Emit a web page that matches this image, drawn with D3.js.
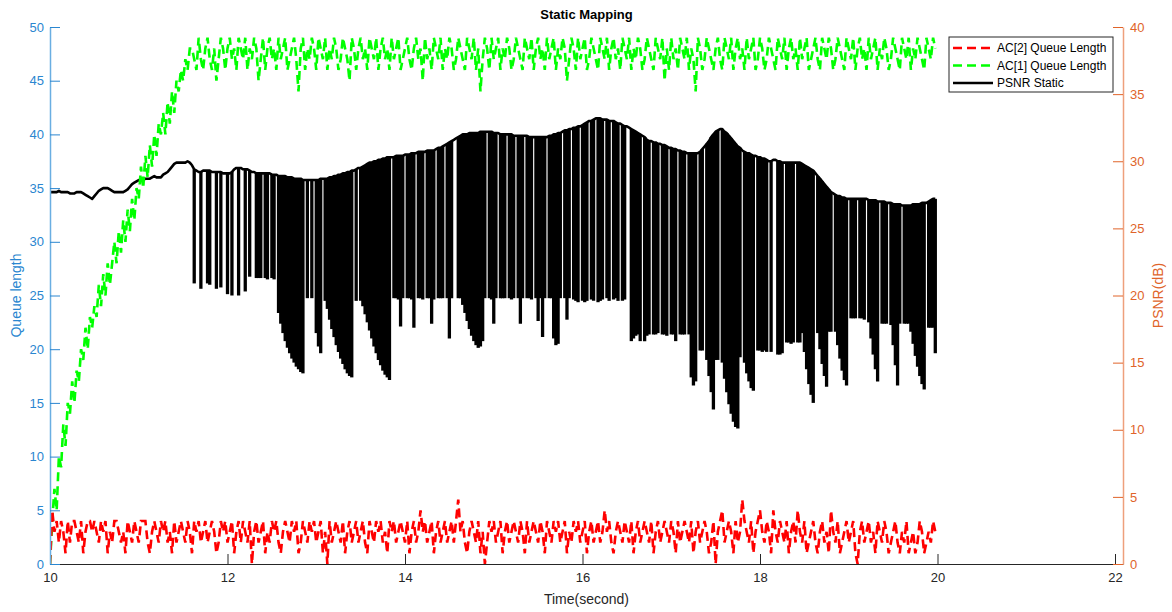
<!DOCTYPE html>
<html>
<head>
<meta charset="utf-8">
<script src="https://cdn.jsdelivr.net/npm/d3@7"></script>
<style>
body { margin: 0; background: #fff; }
svg text { font-family: "Liberation Sans", Arial, Helvetica, sans-serif; }
</style>
</head>
<body>
<div id="chart"></div>
<script>
var _ = null;

// sampling of all three series: t = t0 + i*dt
var t0 = 10, dt = 0.025;

// PSNR Static (dB), upper envelope per sample
var psnrHigh = [
  27.7,27.7,27.7,27.7,27.8,27.7,27.7,27.7,27.7,27.6,
  27.6,27.6,27.7,27.7,27.7,27.6,27.5,27.4,27.3,27.2,
  27.4,27.6,27.8,27.9,28.0,28.0,28.0,27.9,27.8,27.7,
  27.7,27.7,27.7,27.7,27.8,27.9,28.1,28.3,28.4,28.5,
  28.6,28.6,28.6,28.7,28.7,28.7,28.8,28.9,28.8,28.8,
  28.8,29.0,29.1,29.2,29.4,29.6,29.8,29.9,29.9,29.9,
  29.9,29.9,30.0,29.9,29.7,29.4,29.3,29.2,29.2,29.3,
  29.3,29.3,29.3,29.2,29.2,29.2,29.2,29.2,29.1,29.1,
  29.1,29.1,29.2,29.4,29.5,29.5,29.5,29.4,29.4,29.4,
  29.3,29.2,29.2,29.1,29.1,29.1,29.1,29.1,29.1,29.1,
  29.0,29.0,29.0,28.9,28.9,28.9,28.9,28.8,28.8,28.8,
  28.7,28.7,28.7,28.7,28.6,28.6,28.6,28.6,28.6,28.6,
  28.6,28.6,28.7,28.7,28.7,28.7,28.8,28.8,28.9,28.9,
  29.0,29.0,29.1,29.1,29.2,29.2,29.3,29.3,29.4,29.5,
  29.5,29.6,29.7,29.8,29.9,29.9,30.0,30.0,30.1,30.1,
  30.2,30.2,30.3,30.3,30.3,30.3,30.4,30.4,30.4,30.4,
  30.5,30.5,30.5,30.6,30.6,30.6,30.7,30.7,30.7,30.7,
  30.8,30.8,30.8,30.8,30.9,31.0,31.0,31.1,31.2,31.3,
  31.4,31.5,31.6,31.7,31.8,31.9,32.0,32.0,32.0,32.1,
  32.1,32.1,32.1,32.1,32.2,32.2,32.2,32.2,32.2,32.2,
  32.1,32.1,32.1,32.0,32.0,32.0,32.0,32.0,32.0,31.9,
  31.9,31.9,31.9,31.9,31.9,31.9,31.8,31.8,31.8,31.8,
  31.8,31.8,31.8,31.8,31.8,31.9,31.9,32.0,32.0,32.1,
  32.1,32.2,32.3,32.3,32.4,32.4,32.5,32.5,32.6,32.6,
  32.7,32.8,32.9,33.0,33.0,33.1,33.2,33.2,33.2,33.1,
  33.1,33.1,33.0,33.0,33.0,32.9,32.8,32.8,32.7,32.6,
  32.6,32.5,32.4,32.3,32.2,32.1,32.0,31.9,31.8,31.6,
  31.5,31.5,31.4,31.4,31.3,31.3,31.2,31.2,31.1,31.0,
  31.0,30.9,30.9,30.8,30.8,30.7,30.7,30.6,30.6,30.6,
  30.6,30.6,30.6,30.7,30.9,31.1,31.3,31.5,31.8,32.0,
  32.2,32.3,32.4,32.4,32.2,32.1,31.9,31.7,31.5,31.3,
  31.1,31.0,30.8,30.7,30.6,30.6,30.5,30.4,30.4,30.3,
  30.3,30.2,30.2,30.1,30.0,30.0,30.1,30.1,30.0,30.0,
  29.9,29.9,29.9,29.9,29.9,29.9,29.9,29.9,29.9,29.8,
  29.7,29.6,29.5,29.4,29.3,29.1,28.9,28.7,28.5,28.3,
  28.1,27.9,27.7,27.6,27.5,27.4,27.4,27.3,27.3,27.2,
  27.2,27.2,27.2,27.2,27.2,27.2,27.2,27.2,27.2,27.1,
  27.1,27.1,27.1,27.0,27.0,27.0,27.0,26.9,26.9,26.9,
  26.8,26.8,26.8,26.8,26.7,26.7,26.7,26.7,26.7,26.8,
  26.8,26.8,26.8,26.9,26.9,26.9,27.0,27.1,27.2,27.2
];

// PSNR Static (dB), lowest value reached in each sample (null = no drop)
var psnrLow = [
  _,_,_,_,_,_,_,_,_,_,
  _,_,_,_,_,_,_,_,_,_,
  _,_,_,_,_,_,_,_,_,_,
  _,_,_,_,_,_,_,_,_,_,
  _,_,_,_,_,_,_,_,_,_,
  _,_,_,_,_,_,_,_,_,_,
  _,_,_,_,_,20.9,_,_,20.5,_,
  _,20.9,20.8,_,_,20.5,_,20.6,_,_,
  20.1,_,20.0,_,_,20.0,_,_,20.3,_,
  21.4,_,_,21.3,21.3,21.3,_,21.3,21.2,_,
  21.3,21.2,_,18.7,17.9,17.2,16.6,16.1,15.7,15.3,
  15.0,14.7,14.5,14.3,14.2,_,19.8,_,19.8,_,
  17.2,16.2,15.7,_,19.6,19.0,18.2,17.5,16.9,16.3,
  15.8,15.3,14.9,14.5,14.2,14.0,13.9,_,19.6,_,
  19.6,19.2,18.6,18.0,17.4,16.8,16.2,15.7,15.2,14.8,
  14.4,14.1,13.9,13.7,_,19.8,19.8,19.7,17.7,19.8,
  _,19.8,19.8,19.7,17.6,_,19.8,19.8,19.7,_,
  19.8,19.8,17.9,19.7,_,19.8,19.8,19.8,_,19.8,
  16.8,19.8,_,_,19.8,19.8,19.3,18.7,18.1,17.5,
  17.0,16.6,16.3,16.1,16.2,16.6,19.8,_,19.8,19.7,
  17.9,19.8,_,19.8,19.8,19.8,_,19.8,19.7,19.8,
  _,19.8,17.9,19.8,_,19.8,19.8,19.7,_,19.8,
  18.1,19.8,16.9,19.8,_,19.8,19.8,16.8,16.3,16.4,
  19.8,_,19.8,18.2,19.8,_,19.7,19.6,19.5,_,
  19.6,19.5,19.6,_,19.7,19.6,_,19.5,19.6,19.7,
  _,19.8,19.6,_,19.7,19.8,19.6,_,19.6,19.7,
  _,_,16.6,16.8,17.0,17.1,16.6,_,16.6,17.0,
  17.1,_,17.1,17.1,17.2,_,17.1,17.1,17.0,_,
  17.1,17.1,16.6,_,17.1,17.1,17.1,_,17.1,13.9,
  13.3,13.6,_,15.9,15.9,_,15.2,14.0,12.8,11.5,
  15.2,15.2,_,15.0,13.8,12.8,11.9,11.2,10.6,10.2,
  10.1,15.4,_,15.0,14.2,13.6,13.1,12.9,_,15.9,
  15.9,15.8,15.9,15.8,_,15.8,_,_,15.6,15.6,
  15.7,_,16.5,16.5,16.4,16.5,_,16.5,16.5,17.2,
  15.8,14.5,13.4,12.6,12.0,_,17.2,16.0,14.9,14.0,
  13.2,17.3,17.3,_,17.3,16.3,15.3,14.4,13.7,13.3,
  _,18.3,18.3,18.3,_,18.3,18.3,18.2,_,18.0,
  16.8,15.6,14.5,13.6,_,17.9,17.9,17.9,_,17.8,
  16.3,14.8,13.3,17.9,_,17.9,17.9,17.9,17.3,16.4,
  15.5,14.7,14.0,13.4,13.0,_,17.6,17.6,17.6,15.7
];

// AC[1] Queue Length
var acOne = [
  0,4,7,5,10,9,13,11,15,14,17,15,18,17,20,19,22,20,23,22,
  24,23,26,24,27,25,28,26,28,30,28,31,29,32,30,33,31,34,32,35,
  34,37,35,38,36,39,37,40,38,41,40,42,40,43,41,44,42,45,44,46,
  45,47,46,48,48,47,46,49,47,46,48,49,47,46,48,45,47,49,48,46,
  48,49,47,48,46,49,48,47,49,46,48,47,49,48,45,47,49,46,48,49,
  47,48,46,49,47,48,49,46,47,48,49,47,44,48,49,46,48,47,49,48,
  46,49,48,47,49,46,48,47,49,48,46,47,49,48,47,45,49,48,46,48,
  49,47,48,46,49,48,47,49,46,48,49,47,48,46,49,47,48,49,46,47,
  48,49,47,46,48,49,47,48,45,49,47,48,46,49,48,47,49,46,48,47,
  49,48,46,47,49,48,47,46,49,48,47,49,46,48,44,47,49,48,46,49,
  47,48,49,46,48,47,49,48,46,47,49,48,47,46,49,48,47,49,46,48,
  49,47,48,46,49,47,48,49,46,48,47,49,48,45,47,49,48,46,49,47,
  48,49,46,47,49,48,47,46,49,48,47,49,46,48,49,47,48,46,49,48,
  47,49,46,48,47,49,48,46,47,49,48,47,46,49,48,47,49,45,48,46,
  49,47,48,46,49,48,47,49,46,48,47,44,49,48,46,47,49,48,47,46,
  48,49,47,46,49,48,47,49,46,48,49,47,48,46,49,47,48,49,46,47,
  49,48,46,47,49,48,47,46,49,48,47,49,46,48,49,47,48,46,49,47,
  48,49,46,47,48,49,47,46,49,48,47,49,48,46,47,49,48,47,46,49,
  48,47,49,46,48,49,47,48,46,49,47,48,49,46,48,47,49,48,46,47,
  49,48,47,46,49,48,47,49,46,48,47,49,48,47,46,49,48,47,49,48
];

// AC[2] Queue Length
var acTwo = [
  0,5,3,4,2,4,3,1,4,2,4,4,3,2,4,1,3,4,4,3,
  4,3,2,4,3,4,1,3,2,4,4,3,2,3,1,4,3,2,4,3,
  2,4,4,4,2,1,3,4,3,2,4,3,4,2,3,1,4,2,3,4,
  3,2,4,3,1,4,3,4,2,3,4,2,3,4,3,1,2,4,3,4,
  2,3,4,1,3,4,2,4,3,2,4,0,3,4,2,3,4,1,3,2,
  4,3,4,2,1,3,4,3,2,4,3,4,1,2,4,3,2,4,3,4,
  2,3,4,1,3,0,4,2,3,4,3,2,4,1,3,4,2,3,4,2,
  3,4,2,1,4,3,2,4,3,4,2,3,1,4,3,4,2,3,4,3,
  2,4,1,3,4,2,3,5,3,4,2,3,4,1,3,4,2,3,4,2,
  3,4,2,4,6,3,4,2,1,3,4,3,2,4,1,3,0,2,4,3,
  4,2,3,4,1,3,4,2,3,4,3,2,4,3,1,4,2,3,4,3,
  2,4,3,1,4,3,2,4,3,4,2,3,4,1,3,2,4,3,4,2,
  3,4,1,3,4,2,3,4,2,3,5,3,4,2,1,3,4,3,2,4,
  3,2,4,1,3,4,2,3,4,3,2,4,1,3,4,2,3,4,3,2,
  4,3,1,4,2,3,4,3,2,4,1,3,4,2,3,4,3,1,2,4,
  0,3,4,5,2,3,4,3,1,4,2,3,6,4,3,2,4,1,3,4,
  5,3,2,4,3,1,5,3,2,4,3,2,4,1,3,4,2,5,3,2,
  4,1,2,3,4,2,1,3,4,2,3,1,5,3,2,4,1,2,3,4,
  2,3,4,1,0,3,4,2,3,4,2,3,1,4,3,2,4,3,1,2,
  3,4,2,1,3,2,4,1,2,3,1,2,4,3,1,2,3,2,4,3
];

var xTicks = [10, 12, 14, 16, 18, 20, 22];
var leftTicks = [0, 5, 10, 15, 20, 25, 30, 35, 40, 45, 50];
var rightTicks = [0, 5, 10, 15, 20, 25, 30, 35, 40];
var legendNames = ['AC[2] Queue Length', 'AC[1] Queue Length', 'PSNR Static'];
var legendColors = ['#ff0000', '#00ff00', '#000000'];

var blue = '#2a86d0', blueLine = '#6aaee2';
var orange = '#e0642a', orangeLine = '#eea07c';
var gray = '#262626';
var width = 1172, height = 612;
var plotLeft = 50, plotRight = 1123, plotTop = 27, plotBottom = 564;

var svg = d3.select('#chart')
    .append('svg')
    .attr('width', width)
    .attr('height', height);

var x = d3.scaleLinear().domain([10, 22.09]).range([plotLeft, plotRight]);
var yLeft = d3.scaleLinear().domain([0, 50]).range([plotBottom, plotTop]);
var yRight = d3.scaleLinear().domain([0, 40]).range([plotBottom, plotTop]);

svg.append('clipPath')
    .attr('id', 'plotClip')
    .append('rect')
    .attr('x', plotLeft).attr('y', plotTop)
    .attr('width', plotRight - plotLeft).attr('height', plotBottom - plotTop);

var plot = svg.append('g').attr('clip-path', 'url(#plotClip)');

var tOf = function (i) { return t0 + i * dt; };

// PSNR: envelope line plus the drops inside each sample
var spikes = psnrLow
    .map(function (v, i) { return { t: tOf(i), hi: psnrHigh[i], lo: v }; })
    .filter(function (d) { return d.lo !== null; });

plot.selectAll('line.spike')
    .data(spikes)
    .join('line')
    .attr('class', 'spike')
    .attr('x1', function (d) { return x(d.t); })
    .attr('x2', function (d) { return x(d.t); })
    .attr('y1', function (d) { return yRight(d.hi); })
    .attr('y2', function (d) { return yRight(d.lo); })
    .attr('stroke', '#000')
    .attr('stroke-width', 3.3);

plot.append('path')
    .datum(psnrHigh)
    .attr('fill', 'none')
    .attr('stroke', '#000')
    .attr('stroke-width', 2.6)
    .attr('stroke-linejoin', 'round')
    .attr('d', d3.line().x(function (d, i) { return x(tOf(i)); }).y(function (d) { return yRight(d); }));

var queueLine = d3.line()
    .x(function (d, i) { return x(tOf(i)); })
    .y(function (d) { return yLeft(d); });

plot.append('path')
    .datum(acOne)
    .attr('fill', 'none')
    .attr('stroke', '#00ff00')
    .attr('stroke-width', 2.6)
    .attr('stroke-dasharray', '9,5')
    .attr('d', queueLine);

plot.append('path')
    .datum(acTwo)
    .attr('fill', 'none')
    .attr('stroke', '#ff0000')
    .attr('stroke-width', 2.6)
    .attr('stroke-dasharray', '9,5')
    .attr('d', queueLine);

// axes
var xAxis = svg.append('g')
    .attr('transform', `translate(0, ${plotBottom})`)
    .call(d3.axisBottom(x).tickValues(xTicks).tickSizeInner(-10).tickSizeOuter(0).tickPadding(9));
xAxis.selectAll('path, line').attr('stroke', gray);
xAxis.selectAll('text').attr('fill', gray).style('font-size', '13px');

var leftAxis = svg.append('g')
    .attr('transform', `translate(${plotLeft}, 0)`)
    .call(d3.axisLeft(yLeft).tickValues(leftTicks).tickSizeInner(-10).tickSizeOuter(0).tickPadding(6));
leftAxis.selectAll('line').attr('stroke', blue);
leftAxis.select('.domain').attr('stroke', blueLine);
leftAxis.selectAll('text').attr('fill', blue).style('font-size', '13px');

var rightAxis = svg.append('g')
    .attr('transform', `translate(${plotRight}, 0)`)
    .call(d3.axisRight(yRight).tickValues(rightTicks).tickSizeInner(-10).tickSizeOuter(0).tickPadding(7));
rightAxis.selectAll('line').attr('stroke', orange);
rightAxis.select('.domain').attr('stroke', orangeLine);
rightAxis.selectAll('text').attr('fill', orange).style('font-size', '13px');

svg.selectAll('.domain').attr('stroke-width', 1.5);
xAxis.select('.domain').attr('stroke-width', 1);

// labels and title
svg.append('text')
    .attr('x', (plotLeft + plotRight) / 2).attr('y', 604)
    .attr('text-anchor', 'middle')
    .attr('fill', gray)
    .style('font-size', '14px')
    .text('Time(second)');

svg.append('text')
    .attr('transform', `translate(21, ${(plotTop + plotBottom) / 2})rotate(-90)`)
    .attr('text-anchor', 'middle')
    .attr('fill', blue)
    .style('font-size', '14px')
    .text('Queue length');

svg.append('text')
    .attr('transform', `translate(1163, ${(plotTop + plotBottom) / 2})rotate(-90)`)
    .attr('text-anchor', 'middle')
    .attr('fill', orange)
    .style('font-size', '14px')
    .text('PSNR(dB)');

svg.append('text')
    .attr('x', (plotLeft + plotRight) / 2).attr('y', 19)
    .attr('text-anchor', 'middle')
    .attr('fill', '#000')
    .style('font-size', '13px')
    .style('font-weight', 'bold')
    .text('Static Mapping');

// legend
var legend = svg.append('g').attr('transform', 'translate(949, 37)');
legend.append('rect')
    .attr('width', 164).attr('height', 55)
    .attr('fill', '#fff')
    .attr('stroke', gray)
    .attr('stroke-width', 1);

var rows = legend.selectAll('g.row')
    .data(legendNames)
    .join('g')
    .attr('class', 'row')
    .attr('transform', function (d, i) { return `translate(0, ${11 + i * 17.5})`; });

rows.append('line')
    .attr('x1', 4).attr('x2', 44)
    .attr('stroke', function (d, i) { return legendColors[i]; })
    .attr('stroke-width', 2.4)
    .attr('stroke-dasharray', function (d, i) { return i < 2 ? '9,5' : null; });

rows.append('text')
    .attr('x', 48).attr('y', 4)
    .attr('fill', '#000')
    .style('font-size', '12px')
    .text(function (d) { return d; });
</script>
</body>
</html>
